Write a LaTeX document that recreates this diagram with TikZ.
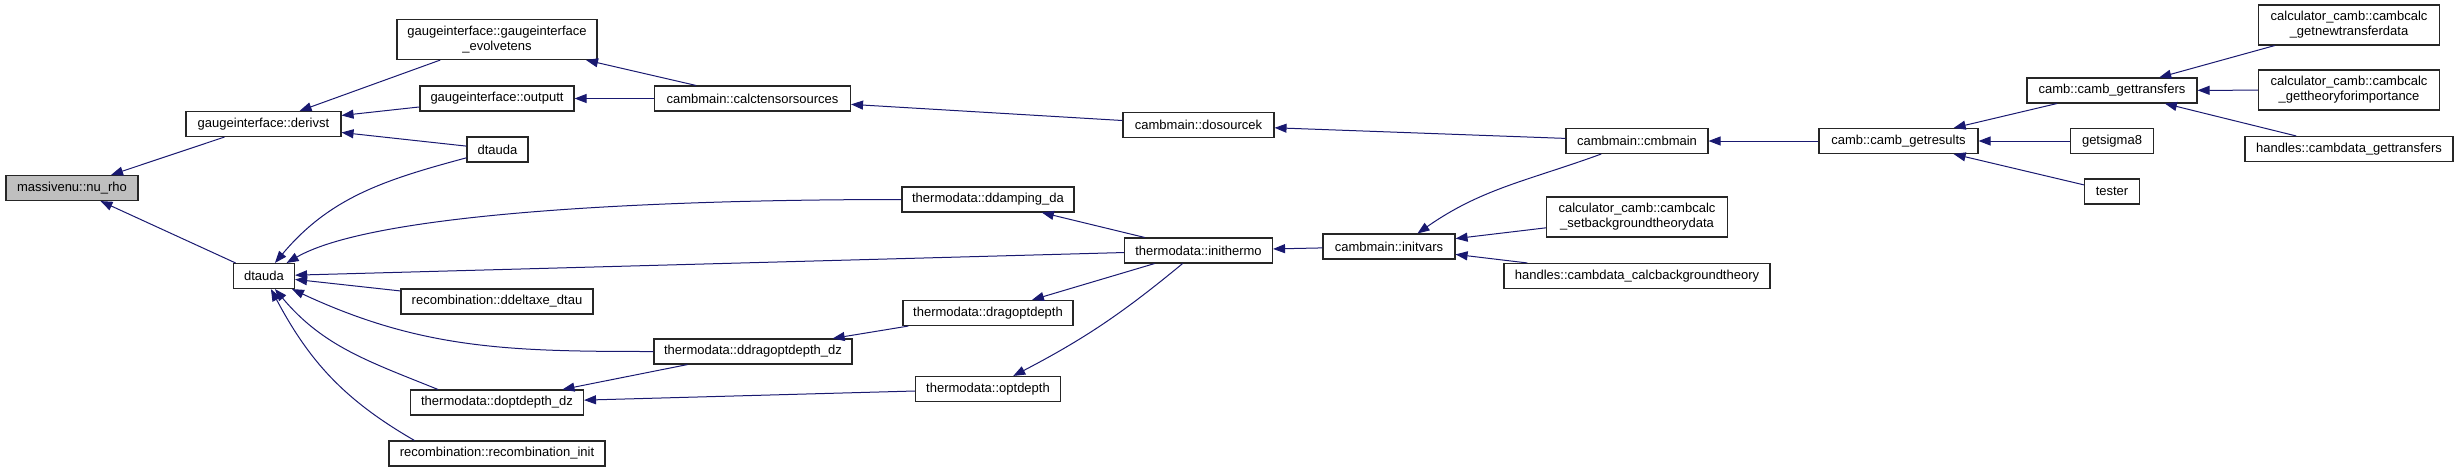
\documentclass[tikz,border=0pt]{standalone}
\usepackage{fontspec}
\setmainfont{Liberation Sans}
\usetikzlibrary{arrows.meta}
\definecolor{callblue}{RGB}{25,25,112}
\definecolor{rootgray}{RGB}{191,191,191}

\begin{document}
\begin{tikzpicture}[x=1pt,y=1pt,
        fn/.style={draw=black!85, line width=1.1pt, fill=white, inner sep=0pt,
            minimum height=25pt, align=center, font=\fontsize{13}{15}\selectfont},
        fnroot/.style={fn, fill=rootgray},
        fntwo/.style={fn, minimum height=40pt},
        call/.style={draw=callblue, line width=1pt, {Triangle[length=12pt,width=9pt]}-}]
                \useasboundingbox (0,0) rectangle (2459,-472);
                % functions
                \node[fnroot, minimum width=132pt] (nurho) at (72,-188) {massivenu::nu\_rho};
                \node[fn, minimum width=155pt] (derivst) at (263.5,-124) {gaugeinterface::derivst};
                \node[fn, minimum width=61pt] (dtauda) at (264,-276) {dtauda};
                \node[fntwo, minimum width=200pt] (evolvetens) at (497,-39.5) {gaugeinterface::gaugeinterface\\\_evolvetens};
                \node[fn, minimum width=154pt] (outputt) at (497,-98.5) {gaugeinterface::outputt};
                \node[fn, minimum width=61pt] (dtaudaB) at (497.5,-149.5) {dtauda};
                \node[fn, minimum width=192pt] (ddeltaxe) at (497,-301.5) {recombination::ddeltaxe\_dtau};
                \node[fn, minimum width=173pt] (doptdz) at (497,-402.5) {thermodata::doptdepth\_dz};
                \node[fn, minimum width=216pt] (recinit) at (497,-453.5) {recombination::recombination\_init};
                \node[fn, minimum width=196pt] (calctens) at (752.5,-98.5) {cambmain::calctensorsources};
                \node[fn, minimum width=198pt] (ddragoptdz) at (753,-351.5) {thermodata::ddragoptdepth\_dz};
                \node[fn, minimum width=172pt] (ddamping) at (988,-199.5) {thermodata::ddamping\_da};
                \node[fn, minimum width=170pt] (dragopt) at (988,-313) {thermodata::dragoptdepth};
                \node[fn, minimum width=145pt] (optdepth) at (988,-389) {thermodata::optdepth};
                \node[fn, minimum width=151pt] (dosourcek) at (1198.5,-125) {cambmain::dosourcek};
                \node[fn, minimum width=148pt] (inithermo) at (1198.5,-250.5) {thermodata::inithermo};
                \node[fn, minimum width=132pt] (initvars) at (1389,-246.5) {cambmain::initvars};
                \node[fn, minimum width=142pt] (cmbmain) at (1637,-141) {cambmain::cmbmain};
                \node[fntwo, minimum width=181pt] (setbg) at (1637,-217) {calculator\_camb::cambcalc\\\_setbackgroundtheorydata};
                \node[fn, minimum width=266pt] (calcbg) at (1637,-276) {handles::cambdata\_calcbackgroundtheory};
                \node[fn, minimum width=159pt] (getresults) at (1898.5,-141) {camb::camb\_getresults};
                \node[fn, minimum width=170pt] (gettransfers) at (2112,-90.5) {camb::camb\_gettransfers};
                \node[fn, minimum width=83pt] (getsigma) at (2112,-141) {getsigma8};
                \node[fn, minimum width=55pt] (tester) at (2112,-191.5) {tester};
                \node[fntwo, minimum width=181pt] (getnewtf) at (2349,-25) {calculator\_camb::cambcalc\\\_getnewtransferdata};
                \node[fntwo, minimum width=181pt] (gettheory) at (2349,-90) {calculator\_camb::cambcalc\\\_gettheoryforimportance};
                \node[fn, minimum width=208pt] (cdgettf) at (2349,-149) {handles::cambdata\_gettransfers};
                % calls
                \draw[call] (nurho) -- (derivst);
                \draw[call] (nurho) -- (dtauda);
                \draw[call] (derivst) -- (evolvetens);
                \draw[call] (derivst) -- (outputt);
                \draw[call] (derivst) -- (dtaudaB);
                \draw[call] (dtauda) to[out=50,in=195] (dtaudaB);
                \draw[call] (dtauda) to[out=30,in=180,out distance=100pt,in distance=250pt] (ddamping);
                \draw[call] (dtauda) -- (inithermo);
                \draw[call] (dtauda) -- (ddeltaxe);
                \draw[call] (dtauda) to[out=-25,in=180] (ddragoptdz);
                \draw[call] (dtauda) to[out=-50,in=158] ([xshift=28pt]doptdz.north west);
                \draw[call] (dtauda) to[out=-62,in=150] ([xshift=26pt]recinit.north west);
                \draw[call] (evolvetens) -- (calctens);
                \draw[call] (outputt) -- (calctens);
                \draw[call] (calctens) -- (dosourcek);
                \draw[call] (dosourcek) -- (cmbmain);
                \draw[call] (ddamping) -- (inithermo);
                \draw[call] (dragopt) -- (inithermo);
                \draw[call] (optdepth) to[bend right=6] (inithermo);
                \draw[call] (ddragoptdz) -- (dragopt);
                \draw[call] (doptdz) -- (ddragoptdz);
                \draw[call] (doptdz) -- (optdepth);
                \draw[call] (inithermo) -- (initvars);
                \draw[call] ([xshift=95pt]initvars.north west) to[out=35,in=200] (cmbmain);
                \draw[call] (initvars) -- (setbg);
                \draw[call] (initvars) -- (calcbg);
                \draw[call] (cmbmain) -- (getresults);
                \draw[call] (getresults) -- (gettransfers);
                \draw[call] (getresults) -- (getsigma);
                \draw[call] (getresults) -- (tester);
                \draw[call] (gettransfers) -- (getnewtf);
                \draw[call] (gettransfers) -- (gettheory);
                \draw[call] (gettransfers) -- (cdgettf);
            \end{tikzpicture}
\end{document}
